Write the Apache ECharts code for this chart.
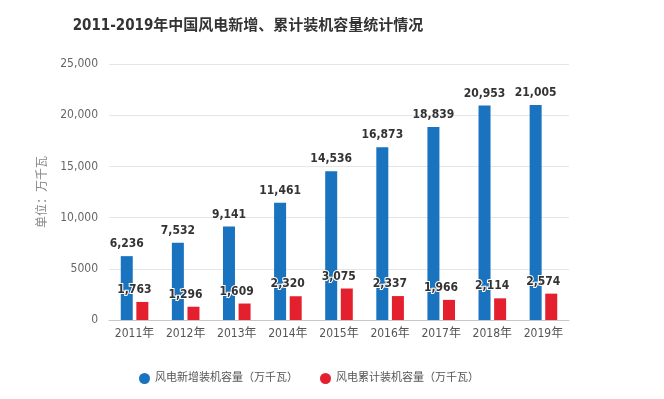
<!DOCTYPE html>
<html>
<head>
<meta charset="utf-8">
<script src="https://cdn.jsdelivr.net/npm/echarts@6/dist/echarts.min.js"></script>
<style>
  html, body { margin: 0; padding: 0; background: #fff; }
  #chart { width: 664px; height: 399px; }
</style>
</head>
<body>
<div id="chart"></div>
<script>
var years = ['2011年', '2012年', '2013年', '2014年', '2015年', '2016年', '2017年', '2018年', '2019年']
var newCap = [6236, 7532, 9141, 11461, 14536, 16873, 18839, 20953, 21005]
var totalCap = [1763, 1296, 1609, 2320, 3075, 2337, 1966, 2114, 2574]
var yTickLabels = ['0', '5000', '10,000', '15,000', '20,000', '25,000']

var font = '"DejaVu Sans Condensed", "Noto Sans CJK SC", sans-serif'

function fmt(p) {
  return p.value.toLocaleString('en-US')
}

var chart = echarts.init(document.getElementById('chart'))
chart.setOption({
  color: ['#1a73bf', '#e5202e'],
  title: {
    text: '2011-2019年中国风电新增、累计装机容量统计情况',
    left: 243,
    top: 14,
    textAlign: 'center',
    textStyle: {
      fontSize: 15,
      fontWeight: 'bold',
      color: '#333',
      fontFamily: font
    }
  },
  grid: {
    left: 109,
    right: 95,
    top: 64,
    bottom: 79
  },
  legend: {
    bottom: 10,
    left: 134,
    icon: 'circle',
    itemWidth: 11,
    itemHeight: 11,
    itemGap: 22,
    textStyle: {
      fontSize: 11,
      color: '#555',
      fontFamily: font
    }
  },
  xAxis: {
    type: 'category',
    data: years,
    axisLine: { lineStyle: { color: '#c8c8c8' } },
    axisTick: { alignWithLabel: true, length: 5, lineStyle: { color: '#c8c8c8' } },
    axisLabel: {
      interval: 0,
      color: '#555',
      fontSize: 12,
      margin: 8,
      fontFamily: font
    }
  },
  yAxis: {
    type: 'value',
    min: 0,
    max: 25000,
    interval: 5000,
    name: '单位：万千瓦',
    nameLocation: 'middle',
    nameGap: 58,
    nameTextStyle: {
      color: '#888',
      fontSize: 12,
      fontFamily: font
    },
    axisLine: { show: false },
    axisTick: { show: false },
    splitLine: { lineStyle: { color: '#e6e6e6' } },
    axisLabel: {
      color: '#666',
      fontSize: 12,
      margin: 11,
      fontFamily: font,
      formatter: function (value) {
        return yTickLabels[Math.round(value / 5000)]
      }
    }
  },
  series: [
    {
      name: '风电新增装机容量（万千瓦）',
      type: 'bar',
      data: newCap,
      barWidth: 12,
      barGap: '30%',
      label: {
        show: true,
        position: 'top',
        distance: 6,
        color: '#333',
        fontSize: 12,
        fontWeight: 'bold',
        fontFamily: font,
        formatter: fmt
      }
    },
    {
      name: '风电累计装机容量（万千瓦）',
      type: 'bar',
      data: totalCap,
      barWidth: 12,
      label: {
        show: true,
        position: 'top',
        distance: 6,
        offset: [-8, 0],
        color: '#333',
        fontSize: 12,
        fontWeight: 'bold',
        fontFamily: font,
        textBorderColor: '#fff',
        textBorderWidth: 2,
        formatter: fmt
      }
    }
  ]
})
</script>
</body>
</html>
